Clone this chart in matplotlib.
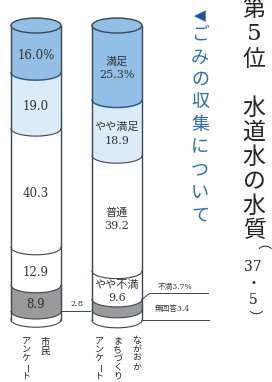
import numpy as np
import matplotlib.pyplot as plt
from matplotlib.patches import Ellipse

plt.rcParams['font.family'] = ['Noto Sans CJK JP', 'DejaVu Sans']
CJK = 'Noto Sans CJK JP'
NUM = ['DejaVu Serif', 'Noto Sans CJK JP']

# survey data (percent), top to bottom
categories = ['満足', 'やや満足', '普通', 'やや不満', '不満', '無回答']
citizen = [16.0, 19.0, 40.3, 12.9, 8.9, 2.8]
nagaoka = [25.3, 18.9, 39.2, 9.6, 3.7, 3.4]
citizen_labels = ['16.0%', '19.0', '40.3', '12.9', '8.9', '2.8']
nagaoka_labels = ['満足\n25.3%', 'やや満足\n18.9', '普通\n39.2', 'やや不満\n9.6',
                  '不満3.7%', '無回答3.4']
seg_colors = ['#93bfe6', '#dbecf8', '#ffffff', '#ffffff', '#9a9a9a', '#ffffff']

fig = plt.figure(figsize=(2.72, 3.82), dpi=100)

# pixel-space axes for the vertical headings
bg = fig.add_axes([0, 0, 1, 1])
bg.set_xlim(0, 272)
bg.set_ylim(382, 0)
bg.axis('off')

# cylinder axes: x = survey index, y = cumulative percent (downwards)
ax = fig.add_axes([-4.5 / 272, 0.0852, 162 / 272, 0.9251])
ax.set_xlim(-0.5, 1.5)
ax.set_ylim(110, -10)
ax.axis('off')

a = 0.309   # half width of a cylinder
b = 2.55    # half height of the ellipses
t = np.linspace(-1, 1, 80)
arc = b * np.sqrt(1 - t ** 2)
edge = '#3c4650'


def cylinder(cx, values, labels, inside=4):
    cum = np.concatenate([[0], np.cumsum(values)])
    xs = cx + a * t
    for i, v in enumerate(values):
        y0, y1 = cum[i], cum[i + 1]
        ax.fill(np.concatenate([xs, xs[::-1]]),
                np.concatenate([y0 + arc, (y1 + arc)[::-1]]),
                color=seg_colors[i], lw=0, zorder=1)
        lc = '#2f5c8c' if i == 0 else edge
        ax.plot(xs, y1 + arc, color=lc, lw=1.1 if i == 0 else 0.8, zorder=3)
        if i < inside:
            two = '\n' in labels[i]
            ax.text(cx, (y0 + y1) / 2 + b * 0.8, labels[i], ha='center', va='center',
                    fontsize=8 if two else 8.5, family=NUM, color='#333333',
                    linespacing=1.4, zorder=4)
    ax.add_patch(Ellipse((cx, 0), 2 * a, 2 * b, fc=seg_colors[0], ec=edge, lw=1.0, zorder=3))
    for sx in (cx - a, cx + a):
        ax.plot([sx, sx], [0, cum[-1]], color=edge, lw=1.0, zorder=3)
    return cum


cum_c = cylinder(0, citizen, citizen_labels, inside=5)
cum_n = cylinder(1, nagaoka, nagaoka_labels, inside=4)

# outside labels with leader lines
y = cum_c[5]
ax.plot([a, 0.667], [y, y], color=edge, lw=0.7, clip_on=False)
ax.text(0.51, y - 2.6, citizen_labels[5], ha='center', va='center', fontsize=6,
        family=NUM, color='#333333')

y = cum_n[4]
ax.plot([1 + a, 1.4, 2.13], [y, y - 2.0, y - 2.0], color=edge, lw=0.7, clip_on=False)
ax.text(1.5, y - 4.3, nagaoka_labels[4], ha='left', va='center', fontsize=5.5,
        family=NUM, color='#333333')

y = cum_n[6]
ax.plot([1 + a, 2.13], [y, y], color=edge, lw=0.7, clip_on=False)
ax.text(1.47, y - 3.8, nagaoka_labels[5], ha='left', va='center', fontsize=5.5,
        family=NUM, color='#333333')


def vtext(x, y, s, step, size, color='#222222', family=CJK):
    for i, ch in enumerate(s):
        rot = -90 if ch in 'ー（）' else 0
        fam = 'DejaVu Serif' if ch.isdigit() else family
        bg.text(x, y + i * step, ch, ha='center', va='center', rotation=rot,
                fontsize=size, color=color, family=fam)


# headings
bg.text(200, 16, '◀', ha='center', va='center', fontsize=11,
        color='#1f55a0', family='DejaVu Sans')
vtext(200, 35, 'ごみの収集について', 22.5, 13, color='#2f6db5')
vtext(254, 10, ['第', '5', '位', '　', '水', '道', '水', 'の', '水', '質'], 24.5, 16.5)
vtext(253, 251, ['（', '37', '・', '5', '）'], 16.3, 10)

# survey names under the cylinders
vtext(45, 342, '市民', 9.5, 6.8)
vtext(26, 341, 'アンケート', 8.8, 6.5)
vtext(137, 340, 'ながおか', 9, 6.5)
vtext(118, 341, 'まちづくり', 8.8, 6.5)
vtext(99, 341, 'アンケート', 8.8, 6.5)

plt.savefig('out.png', dpi=100)
